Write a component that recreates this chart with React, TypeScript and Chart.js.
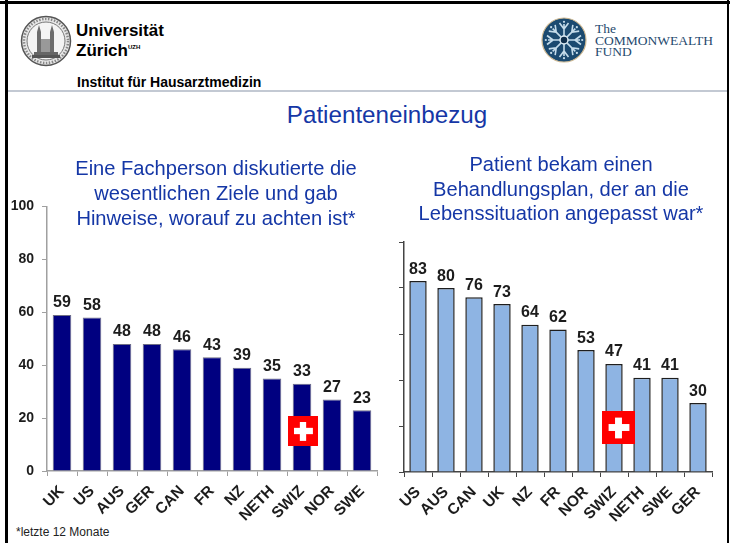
import React, { useEffect, useRef } from "react";
import { Chart, registerables } from "chart.js";

Chart.register(...registerables);

const leftCategories = ["UK", "US", "AUS", "GER", "CAN", "FR", "NZ", "NETH", "SWIZ", "NOR", "SWE"];
const leftValues = [59, 58, 48, 48, 46, 43, 39, 35, 33, 27, 23];
const rightCategories = ["US", "AUS", "CAN", "UK", "NZ", "FR", "NOR", "SWIZ", "NETH", "SWE", "GER"];
const rightValues = [83, 80, 76, 73, 64, 62, 53, 47, 41, 41, 30];

const FONT = "'Liberation Sans', Arial, sans-serif";
const BLUE = "#1537a6";
const INK = "#1c1c1c";

const valueLabels = {
  id: "valueLabels",
  afterDatasetsDraw(chart: any) {
    const { ctx } = chart;
    const meta = chart.getDatasetMeta(0);
    const data = chart.data.datasets[0].data;
    ctx.save();
    ctx.font = `bold 16px ${FONT}`;
    ctx.fillStyle = INK;
    ctx.textAlign = "center";
    ctx.textBaseline = "alphabetic";
    meta.data.forEach((bar: any, i: number) => {
      ctx.fillText(String(data[i]), bar.x, bar.y - 7.5);
    });
    ctx.restore();
  },
};

type PanelProps = {
  categories: string[];
  values: number[];
  fill: string;
  border: string;
  borderWidth: number;
  axisColor: string;
  showYLabels: boolean;
  left: number;
  top: number;
  width: number;
  height: number;
  plotLeft: number;
  plotRight: number;
  plotTop: number;
  plotBottom: number;
};

function Panel(p: PanelProps) {
  const ref = useRef<HTMLCanvasElement>(null);
  useEffect(() => {
    const chart = new Chart(ref.current!, {
      type: "bar",
      data: {
        labels: p.categories,
        datasets: [
          {
            data: p.values,
            backgroundColor: p.fill,
            borderColor: p.border,
            borderWidth: p.borderWidth,
            barPercentage: 0.62,
            categoryPercentage: 1,
          },
        ],
      },
      options: {
        animation: false,
        responsive: false,
        layout: {
          padding: { top: p.plotTop, right: p.width - p.plotRight, left: 0, bottom: 0 },
        },
        plugins: { legend: { display: false }, tooltip: { enabled: false }, title: { display: false } },
        scales: {
          x: {
            grid: { drawOnChartArea: false, color: p.axisColor, tickLength: 5 },
            border: { color: p.axisColor, width: 1.5 },
            ticks: {
              autoSkip: false,
              minRotation: 45,
              maxRotation: 45,
              padding: 6,
              color: INK,
              font: { family: FONT, size: 15.5, weight: "bold" },
            },
            afterFit: (s: any) => {
              s.height = p.height - p.plotBottom;
            },
          },
          y: {
            min: 0,
            max: 100,
            grid: { drawOnChartArea: false, color: p.axisColor, tickLength: 5 },
            border: { color: p.axisColor, width: 1.5 },
            ticks: {
              stepSize: 20,
              display: p.showYLabels,
              padding: 8,
              color: INK,
              font: { family: FONT, size: 14, weight: "bold" },
            },
            afterFit: (s: any) => {
              s.width = p.plotLeft;
            },
          },
        },
      },
      plugins: [valueLabels],
    } as any);
    return () => chart.destroy();
  }, []);
  return (
    <canvas
      ref={ref}
      width={p.width}
      height={p.height}
      style={{ position: "absolute", left: p.left, top: p.top, width: p.width, height: p.height }}
    />
  );
}

function Flag({ x, y, size }: { x: number; y: number; size: number }) {
  const a = size * 0.2;
  const b = size * 0.63;
  const t = size * 0.21;
  return (
    <svg style={{ position: "absolute", left: x, top: y }} width={size} height={size}>
      <rect width={size} height={size} fill="#ff0000" />
      <rect x={a} y={(size - t) / 2} width={b} height={t} fill="#fff" />
      <rect x={(size - t) / 2} y={a} width={t} height={b} fill="#fff" />
    </svg>
  );
}

function Seal() {
  return (
    <svg style={{ position: "absolute", left: 20, top: 15 }} width={52} height={52} viewBox="0 0 52 52">
      <circle cx="26" cy="26" r="24.5" fill="#e8e8e8" stroke="#555" strokeWidth="1.5" />
      <circle cx="26" cy="26" r="19" fill="#f4f4f4" stroke="#777" strokeWidth="1" />
      <circle cx="26" cy="26" r="22" fill="none" stroke="#888" strokeWidth="2.5" strokeDasharray="1.5 1.5" />
      <rect x="14" y="37" width="24" height="3" fill="#666" />
      <path d="M17 37V17l2-7 2 7v20zM30 37V17l2-7 2 7v20z" fill="#6d6d6d" />
      <rect x="21" y="24" width="9" height="13" fill="#999" />
      <path d="M12 40h28v3H12z" fill="#555" />
    </svg>
  );
}

function FundMark() {
  const spokes = [0, 45, 90, 135, 180, 225, 270, 315];
  return (
    <svg style={{ position: "absolute", left: 541, top: 17 }} width={46} height={46} viewBox="0 0 46 46">
      <circle cx="23" cy="23" r="22" fill="#1b4a70" stroke="#cdb892" strokeWidth="1.2" />
      {spokes.map((r) => (
        <g key={r} transform={`rotate(${r} 23 23)`}>
          <path d="M23 20V7M23 12L18.5 6M23 12l4.5-6" stroke="#c5dcea" strokeWidth="1.6" fill="none" />
          <circle cx="23" cy="4.8" r="1.1" fill="#c5dcea" />
        </g>
      ))}
      <circle cx="23" cy="23" r="4" fill="#0f2f4c" stroke="#dcebf3" strokeWidth="1.5" />
    </svg>
  );
}

const abs = (left: number, top: number, extra: React.CSSProperties = {}): React.CSSProperties => ({
  position: "absolute",
  left,
  top,
  whiteSpace: "nowrap",
  fontFamily: FONT,
  ...extra,
});

function Subtitle({ lines, cx, top, lh }: { lines: string[]; cx: number; top: number; lh: number }) {
  return (
    <div style={abs(cx - 170, top, { width: 340, textAlign: "center", color: BLUE, fontSize: 20.1, lineHeight: `${lh}px` })}>
      {lines.map((l) => (
        <div key={l}>{l}</div>
      ))}
    </div>
  );
}

export default function App() {
  useEffect(() => {
    document.body.style.margin = "0";
    document.body.style.background = "#fff";
  }, []);
  return (
    <div style={{ position: "relative", width: 730, height: 543, overflow: "hidden", background: "#fff" }}>
      <Panel
        categories={leftCategories}
        values={leftValues}
        fill="#000080"
        border="#6f6f85"
        borderWidth={1}
        axisColor="#a0a0a0"
        showYLabels
        left={8}
        top={190}
        width={380}
        height={335}
        plotLeft={39}
        plotRight={369}
        plotTop={16}
        plotBottom={281}
      />
      <Panel
        categories={rightCategories}
        values={rightValues}
        fill="#8eb4e3"
        border="#1e1e1e"
        borderWidth={1.5}
        axisColor="#444444"
        showYLabels={false}
        left={380}
        top={225}
        width={345}
        height={300}
        plotLeft={24}
        plotRight={332}
        plotTop={17}
        plotBottom={247}
      />
      <div style={{ position: "absolute", left: 0, top: 1, width: 730, height: 3, background: "#000" }} />
      <div style={{ position: "absolute", left: 5, top: 0, width: 3, height: 543, background: "#000" }} />
      <div style={{ position: "absolute", left: 727, top: 0, width: 2, height: 543, background: "#000" }} />
      <div style={{ position: "absolute", left: 8, top: 90, width: 719, height: 2, background: "#c3c9d3" }} />
      <Seal />
      <div style={abs(76, 21, { fontSize: 17, fontWeight: 700, color: "#000", lineHeight: "20px" })}>
        Universität
        <br />
        Zürich<sup style={{ fontSize: 6, verticalAlign: "7px", lineHeight: 0 }}>UZH</sup>
      </div>
      <div style={abs(77, 75, { fontSize: 14, fontWeight: 700, color: "#000", lineHeight: "14px" })}>
        Institut für Hausarztmedizin
      </div>
      <FundMark />
      <div style={abs(595, 23, { fontFamily: "'Liberation Serif', serif", fontSize: 13.5, lineHeight: "11.5px", color: "#1f4a6e" })}>
        The
        <br />
        COMMONWEALTH
        <br />
        FUND
      </div>
      <div style={abs(187, 100, { width: 400, textAlign: "center", fontSize: 24.2, color: BLUE, lineHeight: "30px" })}>
        Patienteneinbezug
      </div>
      <Subtitle
        cx={216}
        top={156}
        lh={25}
        lines={["Eine Fachperson diskutierte die", "wesentlichen Ziele und gab", "Hinweise, worauf zu achten ist*"]}
      />
      <Subtitle
        cx={561}
        top={152}
        lh={24.5}
        lines={["Patient bekam einen", "Behandlungsplan, der an die", "Lebenssituation angepasst war*"]}
      />
      <Flag x={288} y={416} size={30} />
      <Flag x={602} y={411} size={33} />
      <div style={abs(16, 525, { fontSize: 12, color: "#222", lineHeight: "14px" })}>*letzte 12 Monate</div>
    </div>
  );
}
